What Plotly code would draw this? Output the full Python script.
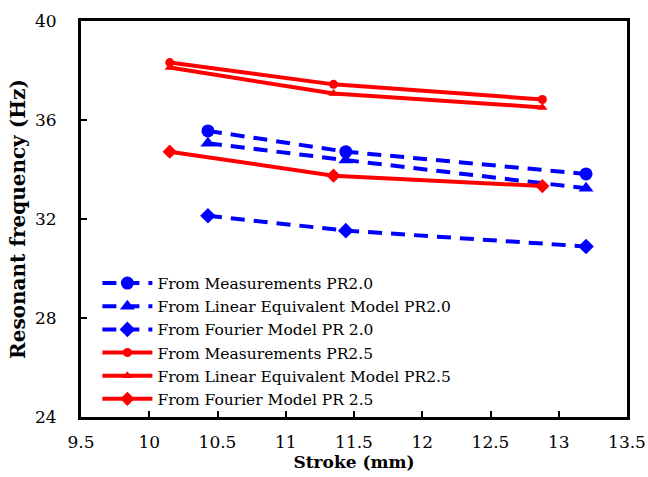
import plotly.graph_objects as go

x_pr20 = [10.43, 11.44, 13.20]
meas_pr20 = [35.56, 34.72, 33.82]
lin_pr20 = [35.06, 34.38, 33.24]
four_pr20 = [32.13, 31.53, 30.89]

x_pr25 = [10.15, 11.35, 12.88]
meas_pr25 = [38.32, 37.44, 36.83]
lin_pr25 = [38.12, 37.07, 36.51]
four_pr25 = [34.72, 33.75, 33.33]

BLUE = "#0000FF"
RED = "#FF0000"
FONT = "DejaVu Serif"

series = [
    ("From Measurements PR2.0", x_pr20, meas_pr20, BLUE, "circle", 13, "14px,9px"),
    ("From Linear Equivalent Model PR2.0", x_pr20, lin_pr20, BLUE, "triangle-up", 13, "14px,9px"),
    ("From Fourier Model PR 2.0", x_pr20, four_pr20, BLUE, "diamond", 12, "14px,9px"),
    ("From Measurements PR2.5", x_pr25, meas_pr25, RED, "circle", 9, "solid"),
    ("From Linear Equivalent Model PR2.5", x_pr25, lin_pr25, RED, "triangle-up", 9, "solid"),
    ("From Fourier Model PR 2.5", x_pr25, four_pr25, RED, "diamond", 11, "solid"),
]

fig = go.Figure()
for name, xs, ys, col, sym, sz, dash in series:
    fig.add_trace(go.Scatter(
        x=xs, y=ys, name=name, mode="lines+markers",
        line=dict(color=col, width=4, dash=dash),
        marker=dict(color=col, symbol=sym, size=sz),
    ))

axis_common = dict(
    showline=True, linecolor="black", linewidth=3, mirror=True,
    ticks="inside", ticklen=6, tickwidth=2, tickcolor="black",
    showgrid=False, zeroline=False, automargin=False,
    tickfont=dict(family=FONT, size=17, color="black"),
)

fig.update_layout(
    width=648, height=477,
    margin=dict(l=81, r=21, t=21, b=60),
    paper_bgcolor="white", plot_bgcolor="white",
    xaxis=dict(range=[9.5, 13.5], dtick=0.5, ticklabelstandoff=8,
               title=dict(text="<b>Stroke (mm)</b>", font=dict(family=FONT, size=17, color="black"), standoff=2),
               **axis_common),
    yaxis=dict(range=[24, 40], dtick=4, ticklabelstandoff=18,
               title=dict(text="<b>Resonant frequency (Hz)</b>", font=dict(family=FONT, size=20, color="black"), standoff=4),
               **axis_common),
    legend=dict(x=0.03, y=0.38, xanchor="left", yanchor="top",
                bgcolor="rgba(0,0,0,0)", tracegroupgap=0, itemwidth=50,
                font=dict(family=FONT, size=15.5, color="black")),
    showlegend=True,
)

fig.write_html("out.html", config={"displayModeBar": False},
               post_script="document.body.style.margin='0';document.body.style.overflow='hidden';")
